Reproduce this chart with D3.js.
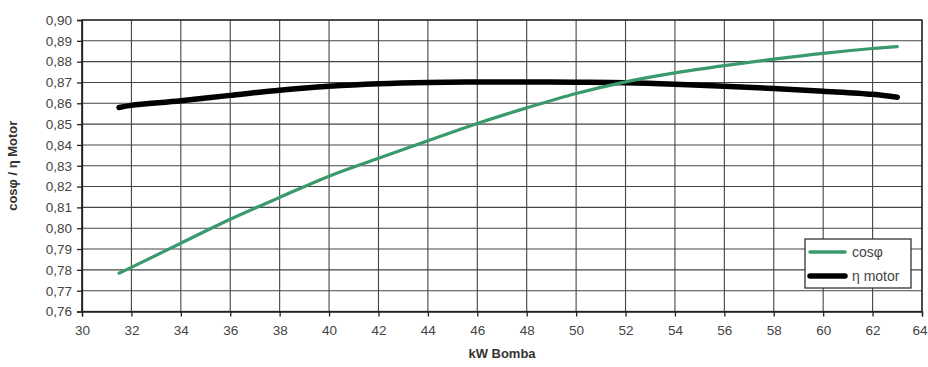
<!DOCTYPE html>
<html>
<head>
<meta charset="utf-8">
<script src="https://cdn.jsdelivr.net/npm/d3@7"></script>
<style>
  html, body { margin: 0; padding: 0; background: #fff; }
  svg { display: block; font-family: "Liberation Sans", Arial, sans-serif; }
</style>
</head>
<body>
<svg id="chart" width="928" height="367"></svg>
<script>
// Pump power (kW) and motor characteristics
const kwBomba   = [31.5, 32, 34, 36, 38, 40, 42, 44, 46, 48, 50, 52, 54, 56, 58, 60, 62, 63];
const cosPhi    = [0.7784, 0.7812, 0.7928, 0.8043, 0.8148, 0.8250, 0.8336, 0.8420, 0.8503, 0.8578, 0.8647, 0.8703, 0.8746, 0.8781, 0.8812, 0.8840, 0.8863, 0.8872];
const etaMotor  = [0.858, 0.859, 0.8612, 0.8638, 0.8663, 0.8682, 0.8694, 0.8700, 0.8702, 0.8702, 0.8701, 0.8699, 0.8692, 0.8682, 0.8671, 0.8658, 0.8643, 0.8629];

const xTicks = d3.range(30, 65, 2);
const yTicks = d3.range(0, 15).map(i => +(0.76 + i * 0.01).toFixed(2));

const svg = d3.select("#chart");
const W = 928, H = 367;
const plot = { left: 82, right: 922, top: 20, bottom: 311.5 };

const x = d3.scaleLinear().domain([30, 64]).range([plot.left, plot.right]);
const y = d3.scaleLinear().domain([0.76, 0.90]).range([plot.bottom, plot.top]);

const fmtY = d => d.toFixed(2).replace(".", ",");

// grid
svg.append("g")
  .selectAll("line")
  .data(xTicks)
  .join("line")
  .attr("x1", d => x(d)).attr("x2", d => x(d))
  .attr("y1", y(0.76)).attr("y2", y(0.90))
  .attr("stroke", "#444").attr("stroke-width", 1.1);

svg.append("g")
  .selectAll("line")
  .data(yTicks)
  .join("line")
  .attr("x1", x(30)).attr("x2", x(64))
  .attr("y1", d => y(d)).attr("y2", d => y(d))
  .attr("stroke", "#444").attr("stroke-width", 1.1);

// plot frame
svg.append("rect")
  .attr("x", x(30)).attr("y", y(0.90))
  .attr("width", x(64) - x(30)).attr("height", y(0.76) - y(0.90))
  .attr("fill", "none").attr("stroke", "#222").attr("stroke-width", 1.3);

// axes
const yAxis = d3.axisLeft(y).tickValues(yTicks).tickFormat(fmtY).tickSize(5).tickPadding(5);
const xAxis = d3.axisBottom(x).tickValues(xTicks).tickFormat(d3.format("d")).tickSize(5).tickPadding(9);

const gy = svg.append("g").attr("transform", `translate(${x(30)},0)`).call(yAxis);
const gx = svg.append("g").attr("transform", `translate(0,${y(0.76)})`).call(xAxis);
[gx, gy].forEach(g => {
  g.select(".domain").attr("stroke", "#222").attr("stroke-width", 1.3);
  g.selectAll(".tick line").attr("stroke", "#222").attr("stroke-width", 1.3);
  g.selectAll(".tick text").attr("fill", "#444").style("font-size", "13.5px");
});
// last x label sits at the window edge: keep it inside
gx.selectAll(".tick text").filter(d => d === 64)
  .attr("text-anchor", "end").attr("x", W - 1 - x(64));

// curves
const line = d3.line().curve(d3.curveCatmullRom.alpha(0.5));

svg.append("path")
  .datum(kwBomba.map((k, i) => [x(k), y(etaMotor[i])]))
  .attr("d", line)
  .attr("fill", "none").attr("stroke", "#000").attr("stroke-width", 5.5)
  .attr("stroke-linecap", "round");

svg.append("path")
  .datum(kwBomba.map((k, i) => [x(k), y(cosPhi[i])]))
  .attr("d", line)
  .attr("fill", "none").attr("stroke", "#3a9a6c").attr("stroke-width", 3.2)
  .attr("stroke-linecap", "round");

// axis titles
svg.append("text")
  .attr("x", (x(30) + x(64)) / 2).attr("y", 358)
  .attr("text-anchor", "middle")
  .style("font-size", "13px").style("font-weight", "bold").attr("fill", "#333")
  .text("kW Bomba");

svg.append("text")
  .attr("transform", `translate(17,${(y(0.76) + y(0.90)) / 2}) rotate(-90)`)
  .attr("text-anchor", "middle")
  .style("font-size", "13px").style("font-weight", "bold").attr("fill", "#333")
  .text("cosφ / η Motor");

// legend
const legend = svg.append("g").attr("transform", "translate(805,239)");
legend.append("rect")
  .attr("width", 106).attr("height", 49)
  .attr("fill", "#fff").attr("stroke", "#333").attr("stroke-width", 1.3);
const items = [
  { label: "cosφ", color: "#3a9a6c", w: 3.5 },
  { label: "η motor", color: "#000", w: 5.5 }
];
items.forEach((it, i) => {
  const cy = 13 + i * 24;
  legend.append("line")
    .attr("x1", 5).attr("x2", 40).attr("y1", cy).attr("y2", cy)
    .attr("stroke", it.color).attr("stroke-width", it.w).attr("stroke-linecap", "round");
  legend.append("text")
    .attr("x", 47).attr("y", cy + 5)
    .style("font-size", "14px").attr("fill", "#444")
    .text(it.label);
});
</script>
</body>
</html>
